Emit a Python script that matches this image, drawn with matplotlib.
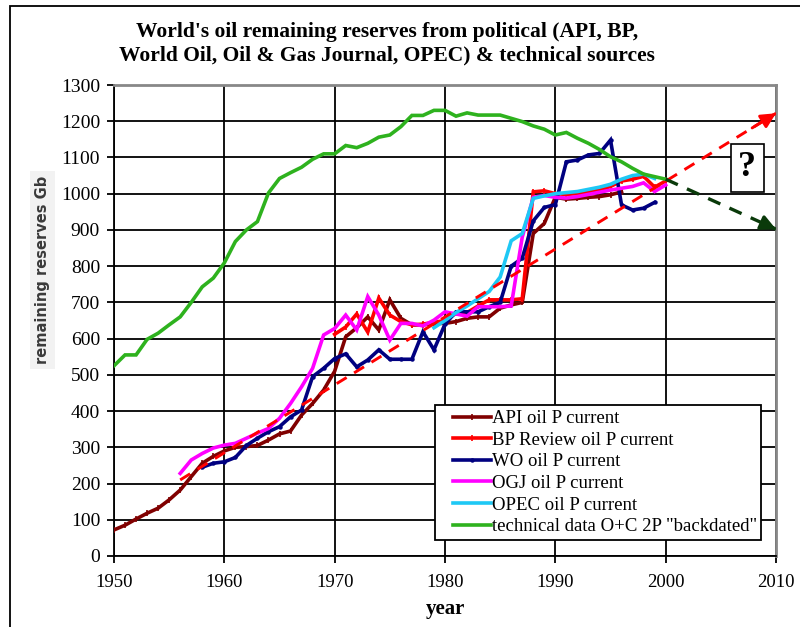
import matplotlib
matplotlib.use("Agg")
import matplotlib.pyplot as plt
from matplotlib.lines import Line2D
from matplotlib.legend_handler import HandlerLine2D
from matplotlib.patches import Rectangle

# ---- data ----
api_years = list(range(1950, 1997))
api_vals = [72, 85, 102, 118, 132, 155, 182, 219, 256, 275,
            290, 300, 302, 305, 320, 337, 345, 389, 421, 458,
            510, 605, 630, 660, 624, 707, 656, 638, 638, 642,
            642, 647, 656, 660, 660, 684, 693, 700, 890, 918,
            990, 985, 987, 990, 992, 997, 1005]

bp_years = list(range(1970, 2001))
bp_vals = [612, 632, 668, 618, 712, 665, 647, 638, 640, 645,
           650, 670, 672, 690, 707, 707, 707, 710, 1005, 1008,
           1000, 998, 1000, 1005, 1010, 1020, 1035, 1040, 1048, 1018,
           1035]

wo_years = list(range(1958, 2000))
wo_vals = [245, 256, 260, 272, 305, 325, 343, 357, 384, 403,
           495, 518, 545, 558, 522, 541, 569, 543, 543, 543,
           619, 569, 640, 674, 674, 674, 688, 700, 800, 822,
           925, 962, 970, 1088, 1093, 1107, 1111, 1148, 969, 955,
           960, 976]

ogj_years = list(range(1956, 2001))
ogj_vals = [228, 265, 283, 298, 306, 311, 325, 339, 352, 380,
            421, 467, 518, 610, 628, 665, 624, 716, 665, 596,
            642, 642, 635, 651, 674, 668, 662, 688, 688, 688,
            690, 880, 990, 995, 990, 988, 992, 998, 1004, 1010,
            1015, 1020, 1030, 1006, 1024]

opec_years = list(range(1979, 2000))
opec_vals = [630, 650, 672, 690, 710, 730, 770, 870, 890, 987,
             994, 1000, 1003, 1006, 1012, 1018, 1026, 1040, 1050, 1054,
             1042]

tech_years = list(range(1950, 2001))
tech_vals = [525, 555, 555, 598, 615, 638, 660, 700, 743, 767,
             809, 868, 900, 923, 1002, 1042, 1058, 1073, 1095, 1110,
             1110, 1133, 1127, 1139, 1156, 1162, 1185, 1216, 1216, 1230,
             1230, 1214, 1223, 1217, 1217, 1217, 1208, 1199, 1187, 1178,
             1162, 1169, 1153, 1139, 1122, 1102, 1088, 1070, 1054, 1047,
             1040]

# hand drawn arrows: political trend and technical projection
trend_years = [1956, 2010]
trend_vals = [210, 1222]
proj_years = [2000, 2010]
proj_vals = [1040, 902]

series = [
    ("API oil P current", api_years, api_vals, "#800000", "|"),
    ("BP Review oil P current", bp_years, bp_vals, "#ff0000", "|"),
    ("WO oil P current", wo_years, wo_vals, "#000080", "."),
    ("OGJ oil P current", ogj_years, ogj_vals, "#ff00ff", None),
    ("OPEC oil P current", opec_years, opec_vals, "#1ec8f5", None),
    ('technical data O+C 2P "backdated"', tech_years, tech_vals, "#2eb21e", None),
]

plt.rcParams["font.family"] = ["Liberation Serif", "DejaVu Serif"]

fig = plt.figure(figsize=(8.0, 6.27), dpi=100)
ax = fig.add_axes([114 / 800, 1 - 556 / 627, 662 / 800, 471 / 627])

for label, xs, ys, color, mk in series:
    ax.plot(xs, ys, color=color, lw=2.6, label=label, solid_joinstyle="miter",
            marker=mk, ms=4, mew=1.2, zorder=3)


def dashed_arrow(xs, ys, color, lw):
    ax.plot(xs, ys, color=color, lw=lw, dashes=(4, 3), zorder=5)
    dx = xs[-1] - xs[0]
    dy = ys[-1] - ys[0]
    start = (xs[-1] - dx * 0.04, ys[-1] - dy * 0.04)
    ax.annotate("", xy=(xs[-1], ys[-1]), xytext=start,
                arrowprops=dict(arrowstyle="-|>", color=color, lw=lw,
                                mutation_scale=22, shrinkA=0, shrinkB=0),
                zorder=6)


dashed_arrow(trend_years, trend_vals, "#ff0000", 2.1)
dashed_arrow(proj_years, proj_vals, "#0a3a0a", 2.4)

ax.text(2007.4, 1071, "?", fontsize=26, fontweight="bold", ha="center",
        va="center", zorder=7,
        bbox=dict(boxstyle="square,pad=0.2", fc="white", ec="black", lw=1.2))

ax.set_xlim(1950, 2010)
ax.set_ylim(0, 1300)
ax.set_xticks(range(1950, 2011, 10))
ax.set_yticks(range(0, 1301, 100))
ax.grid(True, color="black", lw=1.3)
ax.set_axisbelow(True)
ax.tick_params(length=5, width=1.3, color="black", direction="out")
ax.tick_params(axis="x", labelsize=13.5, pad=8)
ax.tick_params(axis="y", labelsize=14, pad=5)
for side in ("top", "right"):
    ax.spines[side].set_color("#888888")
    ax.spines[side].set_linewidth(2)
for side in ("left", "bottom"):
    ax.spines[side].set_color("black")
    ax.spines[side].set_linewidth(1.3)

ax.set_xlabel("year", fontsize=15, fontweight="bold", labelpad=6)

fig.text(0.484, 1 - 43.5 / 627,
         "World's oil remaining reserves from political (API, BP,\n"
         "World Oil, Oil & Gas Journal, OPEC) & technical sources",
         ha="center", va="center", fontsize=15.5, fontweight="bold",
         linespacing=1.2)

fig.text(0.053, 0.569, "remaining reserves Gb", rotation=90, ha="center",
         va="center", fontsize=10.5, fontweight="bold", color="#3a3a3a",
         family="DejaVu Sans",
         bbox=dict(boxstyle="square,pad=0.35", fc="#f2f2f2", ec="none"))

# legend handles start a bit inside the frame, as in the original
leg = ax.legend(loc="lower right", bbox_to_anchor=(0.978, 0.034), fontsize=13.5,
                frameon=True, fancybox=False, framealpha=1, edgecolor="black",
                handlelength=2.7, handletextpad=0.05, labelspacing=0.24,
                borderpad=0.25, borderaxespad=0,
                handler_map={Line2D: HandlerLine2D(xpad=0.7)})
leg.get_frame().set_linewidth(1.3)
leg.set_zorder(10)

# outer chart frame
fig.patches.append(Rectangle((10 / 800, -0.1), 1.2, 1 - 6 / 627 + 0.1,
                             transform=fig.transFigure, fill=False,
                             ec="black", lw=1.3))

fig.savefig("out.png", dpi=100)
